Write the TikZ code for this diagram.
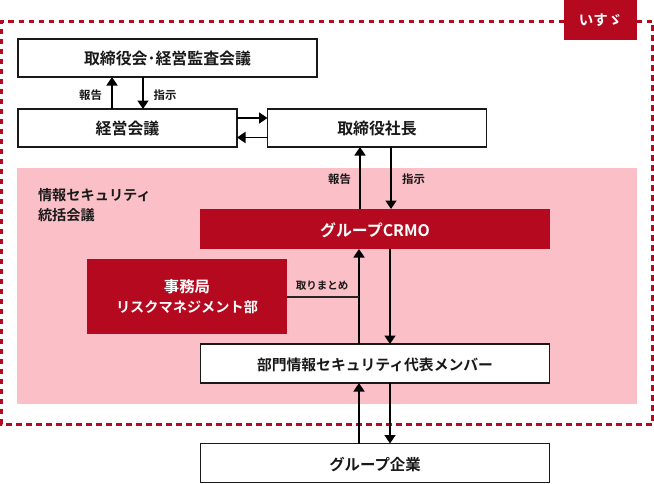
\documentclass[tikz,border=0pt]{standalone}
\usepackage{fontspec}
\setmainfont{Noto Sans CJK JP}[BoldFont={Noto Sans CJK JP Bold}]
\usetikzlibrary{arrows.meta,calc}
\definecolor{isured}{HTML}{B4091F}
\definecolor{isupink}{HTML}{FBC0C7}
\newcommand{\fs}[1]{\fontsize{#1}{20}\selectfont\bfseries}
\newcommand{\dn}[2]{\raisebox{-#1pt}[\height][\depth]{#2}}
\tikzset{
  x=1pt,y=-1pt,
  box/.style={inner sep=0pt,outer sep=0pt,align=center,font=\fs{15.9},text=black!90},
  whitebox/.style={box,draw=black!90,line width=1.1pt,fill=white},
  redbox/.style={box,fill=isured,text=white},
  arr/.style={draw=black,line width=1.7pt,-{Triangle[length=8.5pt,width=11pt]}},
  plain/.style={draw=black!85,line width=2pt},
  lab/.style={inner sep=0pt,font=\fs{11.4},text=black!90},
}
\begin{document}
\begin{tikzpicture}
\useasboundingbox (0,0) rectangle (654,483);
\fill[white] (0,0) rectangle (654,483);
\node[inner sep=0pt,fill=isupink,minimum width=620pt,minimum height=236pt] (pink) at (327,286) {};
\draw[isured,line width=3pt,dash pattern=on 5.5pt off 4.5pt] (564,21) -- (1.5,21) -- (1.5,424) -- (652.5,424) -- (652.5,21) -- (637,21);
\node[redbox,minimum width=73pt,minimum height=40pt,font=\fs{14.5}] (tag) at (600.5,20) {いすゞ};
\node[whitebox,minimum width=299pt,minimum height=38pt] (top) at (167.5,58) {取締役会･経営監査会議};
\node[whitebox,minimum width=219pt,minimum height=38pt] (keiei) at (127.5,128) {経営会議};
\node[whitebox,minimum width=219pt,minimum height=38pt] (ceo) at (377,128) {取締役社長};
\node[redbox,minimum width=350pt,minimum height=40pt] (crmo) at (375,229) {\dn{1}{グループCRMO}};
\node[redbox,minimum width=200pt,minimum height=75pt,font=\fs{14.2}] (jimu) at (187,296.5) {\dn{0.5}{\fs{15.4}事務局}\\\dn{0.5}{リスクマネジメント部}};
\node[whitebox,minimum width=349pt,minimum height=39pt,font=\fs{14.8}] (bumon) at (375,363.5) {\dn{1.5}{部門情報セキュリティ代表メンバー}};
\node[whitebox,minimum width=349pt,minimum height=39pt,font=\fs{15.4}] (group) at (375,463) {\dn{2}{グループ企業}};
\node[box,anchor=north west,align=left,font=\fs{14.2},text=black!90] (kaigi) at (38,188) {情報セキュリティ\\統括会議};
\coordinate (xa) at (112,0);
\coordinate (xb) at (143,0);
\coordinate (xc) at (360,0);
\coordinate (xd) at (391,0);
\coordinate (xe) at (359,0);
\coordinate (xf) at (390,0);
\coordinate (ya) at (0,118);
\coordinate (yb) at (0,137.5);
\draw[arr] (keiei.north -| xa) -- (top.south -| xa);
\draw[arr] (top.south -| xb) -- (keiei.north -| xb);
\draw[arr] (keiei.east |- ya) -- (ceo.west |- ya);
\draw[arr] (ceo.west |- yb) -- (keiei.east |- yb);
\draw[arr] (crmo.north -| xc) -- (ceo.south -| xc);
\draw[arr] (ceo.south -| xd) -- (crmo.north -| xd);
\draw[arr] (bumon.north -| xe) -- (crmo.south -| xe);
\draw[arr] (crmo.south -| xf) -- (bumon.north -| xf);
\draw[arr] (group.north -| xe) -- (bumon.south -| xe);
\draw[arr] (bumon.south -| xf) -- (group.north -| xf);
\coordinate (junction) at (359,296.5);
\draw[plain] (jimu.east) -- (junction);
\node[lab] (l1) at (90.5,95.5) {報告};
\node[lab] (l2) at (165,95.5) {指示};
\node[lab] (l3) at (339.5,179.5) {報告};
\node[lab] (l4) at (413.5,179.5) {指示};
\node[lab,font=\fs{10.5}] (l5) at (322,285.5) {取りまとめ};
\end{tikzpicture}
\end{document}
